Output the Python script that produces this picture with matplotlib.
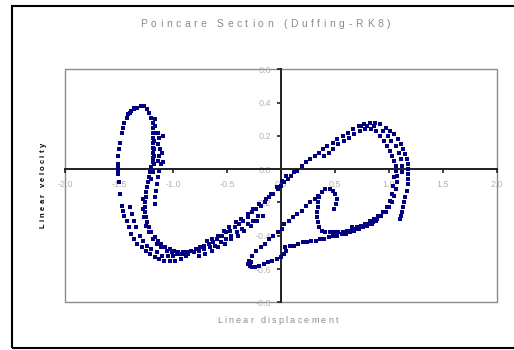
import matplotlib
matplotlib.use('Agg')
import matplotlib.pyplot as plt
import matplotlib.transforms as mtransforms
from matplotlib.patches import Rectangle
from matplotlib.font_manager import FontProperties
from matplotlib.textpath import TextToPath
import numpy as np

# Poincare section points (displacement, velocity), grouped by branch
arch_outer = [
    (-1.36, 0.36), (-1.40, 0.34), (-1.43, 0.31), (-1.45, 0.28), (-1.46, 0.25),
    (-1.47, 0.22), (-1.49, 0.16), (-1.50, 0.12), (-1.51, 0.08), (-1.51, 0.03),
    (-1.51, 0.01), (-1.51, -0.01), (-1.51, -0.03), (-1.50, -0.08), (-1.49, -0.15),
    (-1.47, -0.22), (-1.46, -0.25), (-1.45, -0.28), (-1.43, -0.31), (-1.41, -0.35),
    (-1.39, -0.39), (-1.36, -0.42), (-1.33, -0.45), (-1.29, -0.47), (-1.25, -0.49),
    (-1.21, -0.51), (-1.17, -0.53), (-1.13, -0.54), (-1.08, -0.55), (-1.03, -0.55),
    (-0.98, -0.55), (-0.93, -0.54), (-0.88, -0.52),
]
left_middle = [
    (-1.40, -0.23), (-1.38, -0.27), (-1.36, -0.31), (-1.34, -0.35), (-1.31, -0.40),
    (-1.28, -0.43), (-1.24, -0.46), (-1.20, -0.48), (-1.15, -0.50), (-1.10, -0.52),
    (-1.05, -0.52), (-1.00, -0.52), (-0.94, -0.51), (-0.89, -0.50), (-0.83, -0.49),
]
main_band = [
    (-1.42, 0.33), (-1.39, 0.35), (-1.36, 0.37), (-1.33, 0.37), (-1.30, 0.38),
    (-1.27, 0.38), (-1.24, 0.36), (-1.22, 0.34), (-1.20, 0.31), (-1.19, 0.28),
    (-1.19, 0.25), (-1.19, 0.22), (-1.19, 0.19), (-1.19, 0.16), (-1.19, 0.13),
    (-1.19, 0.10), (-1.19, 0.07), (-1.19, 0.04), (-1.20, 0.01), (-1.21, -0.02),
    (-1.22, -0.05), (-1.23, -0.08), (-1.24, -0.11), (-1.25, -0.14), (-1.25, -0.17),
    (-1.26, -0.20), (-1.26, -0.23), (-1.26, -0.26), (-1.25, -0.29), (-1.24, -0.32),
    (-1.22, -0.35), (-1.20, -0.38), (-1.17, -0.41), (-1.14, -0.43), (-1.11, -0.45),
    (-1.07, -0.47), (-1.03, -0.48), (-0.99, -0.49), (-0.95, -0.50), (-0.91, -0.50),
    (-0.87, -0.50), (-0.83, -0.49), (-0.79, -0.48), (-0.75, -0.47), (-0.71, -0.46),
    (-0.67, -0.45), (-0.63, -0.44), (-0.59, -0.42), (-0.55, -0.40), (-0.51, -0.38),
    (-0.47, -0.37), (-0.43, -0.35), (-0.39, -0.33), (-0.35, -0.31), (-0.31, -0.29),
    (-0.27, -0.26), (-0.23, -0.24), (-0.19, -0.22), (-0.15, -0.20), (-0.11, -0.17),
    (-0.07, -0.15), (-0.03, -0.12), (0.00, -0.10), (0.03, -0.08), (0.06, -0.06),
    (0.09, -0.04), (0.12, -0.02),
]
main_band_2 = [
    (-1.17, 0.30), (-1.17, 0.26), (-1.17, 0.22), (-1.18, 0.17), (-1.18, 0.12),
    (-1.18, 0.08), (-1.18, 0.03), (-1.19, -0.02), (-1.20, -0.06),
    (-1.28, -0.18), (-1.28, -0.24), (-1.27, -0.29), (-1.25, -0.34), (-1.22, -0.38),
    (-1.19, -0.42), (-1.15, -0.45), (-1.11, -0.47), (-1.06, -0.49), (-1.01, -0.50),
    (-0.96, -0.51), (-0.91, -0.51), (-0.86, -0.51), (-0.81, -0.50), (-0.76, -0.49),
    (-0.71, -0.48), (-0.66, -0.47), (-0.61, -0.46), (-0.56, -0.44), (-0.51, -0.42),
    (-0.46, -0.40), (-0.41, -0.38), (-0.36, -0.36), (-0.31, -0.33), (-0.26, -0.31),
    (-0.21, -0.28),
    (-0.69, -0.43), (-0.64, -0.42), (-0.58, -0.40), (-0.53, -0.37), (-0.48, -0.35),
    (-0.42, -0.32), (-0.37, -0.30), (-0.31, -0.27), (-0.26, -0.24), (-0.20, -0.21),
    (-0.14, -0.18), (-0.09, -0.15), (-0.04, -0.11), (0.01, -0.07), (0.05, -0.04),
]
arch_right = [
    (-1.14, 0.22), (-1.13, 0.19), (-1.14, 0.15), (-1.12, 0.12), (-1.13, 0.08),
    (-1.14, 0.05), (-1.11, 0.03), (-1.13, -0.01), (-1.14, -0.05), (-1.15, -0.09),
    (-1.16, -0.13), (-1.17, -0.17), (-1.17, -0.21),
    (-1.09, 0.20), (-1.10, 0.10), (-1.09, 0.04),
]
diag_lower = [
    (-0.76, -0.52), (-0.70, -0.51), (-0.64, -0.49), (-0.58, -0.47), (-0.52, -0.45),
    (-0.46, -0.42), (-0.40, -0.40), (-0.34, -0.37), (-0.28, -0.34), (-0.22, -0.31),
    (-0.17, -0.28),
]
right_outer = [
    (0.15, -0.01), (0.19, 0.02), (0.23, 0.04), (0.27, 0.06), (0.31, 0.08),
    (0.35, 0.10), (0.39, 0.12), (0.43, 0.14), (0.48, 0.16), (0.52, 0.18),
    (0.57, 0.20), (0.62, 0.22), (0.67, 0.24), (0.72, 0.26), (0.77, 0.27),
    (0.82, 0.28), (0.87, 0.28), (0.92, 0.27), (0.97, 0.25), (1.01, 0.23),
    (1.05, 0.21), (1.08, 0.18), (1.11, 0.15), (1.13, 0.12), (1.15, 0.09),
    (1.17, 0.06), (1.18, 0.03), (1.18, 0.00), (1.18, -0.03), (1.18, -0.06),
    (1.18, -0.09), (1.17, -0.13),
]
right_inner = [
    (0.40, 0.08), (0.44, 0.10), (0.48, 0.12), (0.53, 0.15), (0.58, 0.17),
    (0.63, 0.19), (0.68, 0.21), (0.73, 0.23), (0.78, 0.24), (0.83, 0.24),
    (0.88, 0.23), (0.92, 0.20), (0.95, 0.17), (0.98, 0.14), (1.01, 0.11),
    (1.03, 0.08), (1.05, 0.05), (1.06, 0.02), (1.06, -0.01),
    (0.74, 0.26), (0.80, 0.26), (0.86, 0.26), (0.94, 0.23), (0.99, 0.20),
    (1.02, 0.17), (1.06, 0.14), (1.09, 0.10), (1.11, 0.06), (1.12, 0.02),
    (1.12, -0.02),
]
right_side = [
    (1.07, -0.04), (1.07, -0.08), (1.06, -0.12), (1.05, -0.16), (1.03, -0.20),
    (1.00, -0.23), (0.97, -0.26), (0.93, -0.28), (0.89, -0.30), (0.85, -0.32),
    (0.81, -0.33), (0.77, -0.34), (0.73, -0.35), (0.69, -0.36), (0.65, -0.37),
    (0.61, -0.37), (0.57, -0.38), (0.53, -0.38), (0.49, -0.38), (0.45, -0.38),
    (0.41, -0.38), (0.38, -0.37), (0.35, -0.35), (0.34, -0.32), (0.33, -0.29),
    (0.33, -0.26), (0.34, -0.23), (0.34, -0.20), (0.35, -0.17), (0.38, -0.14),
    (0.41, -0.12), (0.45, -0.12), (0.48, -0.13), (0.50, -0.15), (0.52, -0.18),
    (0.51, -0.21), (0.49, -0.24),
    (1.05, -0.05), (1.04, -0.10), (1.03, -0.15), (1.01, -0.19), (0.98, -0.23),
    (0.94, -0.26), (0.90, -0.28), (0.86, -0.30), (0.82, -0.31), (0.78, -0.33),
    (0.74, -0.34), (0.70, -0.35), (0.66, -0.35),
]
right_lower = [
    (0.04, -0.47), (0.08, -0.46), (0.12, -0.46), (0.16, -0.45), (0.20, -0.44),
    (0.24, -0.44), (0.28, -0.43), (0.32, -0.43), (0.36, -0.42), (0.40, -0.42),
    (0.44, -0.41), (0.48, -0.40), (0.52, -0.40), (0.56, -0.39), (0.60, -0.39),
    (0.64, -0.38), (0.68, -0.37), (0.72, -0.36), (0.76, -0.35), (0.80, -0.34),
    (0.84, -0.33), (0.88, -0.31),
]
tip_up = [
    (-0.27, -0.52), (-0.23, -0.49), (-0.19, -0.47), (-0.15, -0.45), (-0.11, -0.42),
    (-0.07, -0.40), (-0.03, -0.38), (0.01, -0.36), (0.03, -0.33), (0.07, -0.31),
    (0.11, -0.29), (0.15, -0.27), (0.19, -0.25), (0.23, -0.22), (0.27, -0.20),
    (0.31, -0.18), (0.34, -0.16),
]
tip_low = [
    (-0.30, -0.55), (-0.31, -0.57), (-0.29, -0.58), (-0.27, -0.59), (-0.28, -0.56),
    (-0.24, -0.59), (-0.20, -0.58), (-0.16, -0.57), (-0.12, -0.56), (-0.08, -0.55),
    (-0.04, -0.54), (0.00, -0.53), (0.03, -0.51), (0.05, -0.49),
]
right_tail = [
    (1.15, -0.17), (1.14, -0.20), (1.13, -0.23), (1.12, -0.26), (1.11, -0.28),
    (1.10, -0.30),
]

branches = [arch_outer, left_middle, main_band, main_band_2, arch_right, diag_lower,
            right_outer, right_inner, right_side, right_lower, tip_up, tip_low,
            right_tail]
pts = np.array([p for b in branches for p in b])

xticks = [-2.0, -1.5, -1.0, -0.5, 0.0, 0.5, 1.0, 1.5, 2.0]
yticks = [-0.8, -0.6, -0.4, -0.2, 0.0, 0.2, 0.4, 0.6]

_ttp = TextToPath()


def spaced_text(fig, x, y, s, span, size, color, weight='normal', vertical=False):
    # lay the letters out one by one so the string fills `span` points
    prop = FontProperties(family='Liberation Sans', size=size, weight=weight)
    widths = []
    for ch in s:
        if ch == ' ':
            widths.append(size * 0.28)
        else:
            widths.append(_ttp.get_text_width_height_descent(ch, prop, ismath=False)[0])
    gap = (span - sum(widths)) / (len(s) - 1)
    pos = -span / 2
    for ch, w in zip(s, widths):
        c = pos + w / 2
        if vertical:
            tr = mtransforms.offset_copy(fig.transFigure, fig=fig, x=0, y=c, units='points')
            rot = 90
        else:
            tr = mtransforms.offset_copy(fig.transFigure, fig=fig, x=c, y=0, units='points')
            rot = 0
        fig.text(x, y, ch, transform=tr, rotation=rot, rotation_mode='anchor',
                 ha='center', va='baseline', fontproperties=prop, color=color)
        pos += w + gap


fig = plt.figure(figsize=(5.14, 3.5), dpi=100)
fig.patches.append(Rectangle((0.0233, 0.0057), 1.1, 0.977, transform=fig.transFigure,
                             fill=False, edgecolor='black', linewidth=1.5))

ax = fig.add_axes([0.1265, 0.1363, 0.8405, 0.6657])
ax.set_xlim(-2, 2)
ax.set_ylim(-0.8, 0.6)

# plot-area frame
ax.add_patch(Rectangle((0, 0), 1, 1, transform=ax.transAxes, fill=False,
                       edgecolor='#8c8c8c', linewidth=1.0, clip_on=False))

for side in ['top', 'right']:
    ax.spines[side].set_visible(False)
ax.spines['bottom'].set_position(('data', 0))
ax.spines['left'].set_position(('data', 0))
for side in ['bottom', 'left']:
    ax.spines[side].set_color('#202020')
    ax.spines[side].set_linewidth(1.4)

ax.set_xticks(xticks)
ax.set_yticks(yticks)
ax.set_xticklabels(['%.1f' % v for v in xticks])
ax.set_yticklabels(['%.1f' % v for v in yticks])
ax.tick_params(direction='out', length=3, width=1.2, color='#202020',
               labelsize=6.5, labelcolor='#b4b4b4')
ax.tick_params(axis='x', pad=5)
ax.tick_params(axis='y', pad=4)
for lab in ax.get_xticklabels() + ax.get_yticklabels():
    lab.set_family('Liberation Sans')

ax.plot(pts[:, 0], pts[:, 1], 's', color='#000080', markersize=2.6,
        markeredgewidth=0, zorder=3)

spaced_text(fig, 0.5156, 0.923, 'Poincare Section (Duffing-RK8)', 180, 7.5, '#8a8a8a')
spaced_text(fig, 0.540, 0.076, 'Linear displacement', 87, 6.5, '#8a8a8a')
spaced_text(fig, 0.0875, 0.47, 'Linear velocity', 61, 5.5, 'black', weight='bold',
            vertical=True)

fig.savefig('out.png', dpi=100)
